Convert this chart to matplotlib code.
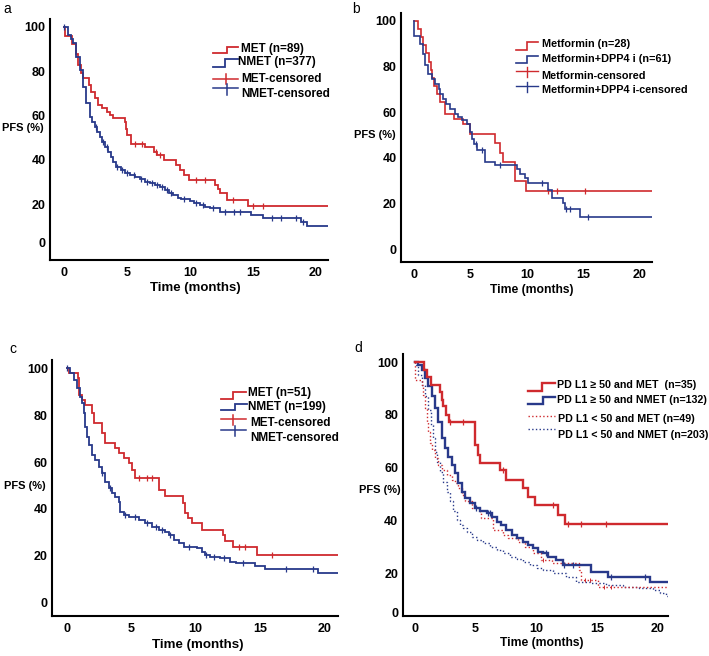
import matplotlib
matplotlib.use('Agg')
import matplotlib.pyplot as plt
import numpy as np

plt.rcParams['font.family'] = ['Liberation Sans', 'DejaVu Sans']

RED = '#cf2a2e'
BLUE = '#28398a'

# ---------------- Panel a ----------------
a_met_t = [0, 0.05, 0.6, 0.9, 1.1, 1.3, 1.5, 2.0, 2.1, 2.4, 2.7, 3.0, 3.4, 3.6, 3.9, 4.8, 4.9, 5.0, 5.3,
           6.4, 7.1, 7.4, 7.9, 8.9, 9.2, 9.5, 9.9, 12.0, 12.2, 12.4, 12.9, 14.6]
a_met_s = [100, 95.9, 92.5, 88, 83, 79, 76.8, 73.8, 70.8, 67.8, 64.8, 63.3, 61.8, 60.3, 58.7, 57.2, 54, 51, 47.3,
           45.8, 43.5, 42, 39.7, 37.5, 35.2, 33, 30.7, 28.6, 26.7, 24.8, 21.8, 19.3]
a_met_c = [5.6, 6.2, 7.3, 7.6, 10.5, 11.2, 13.4, 15.0, 15.8]
a_nmet_t = [0, 0.29, 0.5, 0.69, 0.95, 1.22, 1.48, 1.75, 2.01, 2.2, 2.41, 2.6, 2.81, 3.0, 3.2, 3.45, 3.73, 3.9,
            4.13, 4.5, 4.79, 5.2, 5.59, 6.0, 6.38, 6.8, 7.18, 7.6, 7.97, 8.3, 8.64, 9.0, 9.3, 9.96, 10.3, 10.8,
            11.2, 11.6, 12.4, 14.8, 15.8, 18.8, 19.3]
a_nmet_s = [100, 96.4, 94.5, 92.6, 86.6, 80.6, 73.0, 65.5, 59.5, 57.2, 55.0, 52.7, 50.5, 48.2, 45.9, 43.6, 41.4,
            39.1, 36.9, 35.4, 33.9, 33.1, 32.4, 31.2, 30.1, 29.3, 28.6, 27.5, 26.4, 25.2, 24.1, 22.9, 22.3, 21.5,
            20.6, 19.6, 18.8, 18.1, 16.6, 15.1, 13.6, 12.0, 10.1]
a_nmet_c = [0.0, 2.5, 3.1, 3.4, 4.2, 4.6, 5.0, 5.5, 6.1, 6.6, 7.0, 7.4, 7.8, 8.2, 8.5, 9.5, 10.5, 11.0, 11.8,
            12.8, 13.5, 14.0, 16.5, 17.2, 18.4, 19.0]

# ---------------- Panel b ----------------
b_met_t = [0, 0.4, 0.65, 0.85, 1.1, 1.35, 1.5, 1.65, 1.8, 2.1, 2.3, 2.8, 3.6, 4.4, 5.0, 7.2, 7.6, 7.9, 8.95, 9.9]
b_met_s = [100, 96.4, 92.9, 89.3, 85.7, 82.1, 78.6, 75.0, 71.4, 67.9, 64.3, 59.3, 57.1, 54.9, 50.6, 46.5, 42.0,
           38.0, 29.8, 25.3]
b_met_c = [11.9, 12.7, 15.1]
b_dpp_t = [0, 0.02, 0.56, 0.85, 1.0, 1.3, 1.6, 1.9, 2.2, 2.35, 2.6, 2.9, 3.2, 3.65, 3.95, 4.25, 4.7, 5.0, 5.15,
           5.3, 5.6, 6.3, 7.2, 9.1, 9.4, 9.8, 10.1, 11.9, 12.2, 13.2, 13.4, 14.7]
b_dpp_s = [100, 93.4, 89.8, 85.5, 80.4, 76.7, 74.6, 72.4, 70.2, 68.0, 65.8, 63.7, 61.5, 59.3, 57.8, 56.4, 54.9,
           51.3, 48.4, 46.2, 43.3, 38.2, 36.8, 35.3, 33.1, 31.0, 28.8, 25.9, 22.2, 20.1, 17.4, 14.0]
b_dpp_c = [5.5, 6.0, 7.6, 11.3, 13.5, 13.8, 15.4]

# ---------------- Panel c ----------------
c_met_t = [0, 0.1, 0.83, 0.9, 1.14, 1.4, 1.92, 2.05, 2.7, 2.96, 3.74, 4.0, 4.39, 4.78, 5.04, 5.3, 7.1, 7.64,
           8.99, 9.17, 9.43, 9.69, 10.47, 12.1, 12.3, 12.9, 14.75]
c_met_s = [100, 98.1, 96.0, 88.6, 86.5, 84.4, 80.8, 76.5, 72.3, 68.3, 65.9, 63.7, 61.6, 59.5, 56.6, 53.1, 48.1,
           45.5, 42.4, 38.4, 36.0, 33.9, 31.2, 28.9, 26.5, 23.9, 20.3]
c_met_c = [5.6, 6.2, 6.6, 13.4, 13.8, 15.9]
c_nmet_t = [0, 0.23, 0.49, 0.75, 1.01, 1.14, 1.27, 1.40, 1.53, 1.66, 1.92, 2.18, 2.44, 2.70, 2.96, 3.22, 3.48,
            3.74, 4.0, 4.13, 4.39, 4.78, 5.56, 6.08, 6.6, 7.12, 7.64, 7.9, 8.29, 8.68, 9.06, 10.1, 10.5, 10.7,
            11.1, 11.9, 12.7, 13.1, 14.6, 15.4, 16.0, 19.5]
c_nmet_s = [100, 97.9, 95.0, 91.5, 87.9, 85.1, 80.8, 75.1, 70.8, 67.3, 63.0, 60.9, 58.0, 55.2, 51.6, 48.8, 46.7,
            45.2, 43.1, 38.8, 37.4, 36.7, 35.3, 33.9, 32.4, 31.0, 30.3, 28.9, 26.7, 25.3, 23.9, 23.2, 21.8, 20.3,
            19.6, 18.9, 17.5, 16.8, 15.6, 14.6, 14.2, 12.9]
c_nmet_c = [0.0, 2.7, 3.3, 4.5, 5.3, 6.2, 6.9, 7.4, 8.0, 9.5, 10.8, 11.4, 12.2, 13.7, 17.0, 19.1]

# ---------------- Panel d ----------------
d_hi_met_t = [0, 0.77, 1.0, 1.29, 2.06, 2.2, 2.34, 2.6, 2.83, 4.95, 5.2, 5.4, 7.0, 7.55, 8.93, 9.34, 9.9, 11.8,
              12.36]
d_hi_met_s = [100, 97.1, 94.3, 91.4, 88.6, 85.7, 83.2, 80.0, 77.5, 68.6, 65.0, 61.7, 59.2, 55.4, 52.2, 49.0,
              45.9, 42.1, 38.7]
d_hi_met_c = [2.9, 4.0, 7.3, 11.4, 12.6, 13.7, 15.8]
d_hi_nmet_t = [0, 0.27, 0.55, 0.82, 1.10, 1.37, 1.65, 1.92, 2.20, 2.47, 2.75, 3.02, 3.30, 3.57, 3.85, 4.12, 4.53,
               4.95, 5.36, 5.91, 6.32, 6.73, 7.14, 7.55, 7.97, 8.38, 8.93, 9.34, 9.75, 10.16, 10.58, 11.0, 11.6,
               12.2, 14.5, 15.9, 19.4]
d_hi_nmet_s = [100, 99.0, 97.1, 93.9, 90.8, 87.1, 82.6, 77.5, 71.2, 67.4, 64.2, 61.1, 57.9, 54.1, 50.9, 48.4,
               46.5, 44.6, 43.4, 42.7, 41.5, 39.6, 38.3, 36.4, 34.5, 33.2, 32.0, 30.7, 29.5, 28.2, 27.6, 26.3,
               25.0, 23.1, 20.6, 18.7, 16.8]
d_hi_nmet_c = [5.0, 6.0, 6.2, 10.8, 12.3, 13.0, 16.2, 19.0]
d_lo_met_t = [0, 0.02, 0.55, 0.69, 0.82, 0.96, 1.10, 1.24, 1.37, 1.65, 1.92, 2.2, 2.61, 3.02, 3.3, 3.57, 3.85,
              4.12, 4.67, 5.36, 5.49, 6.46, 7.28, 7.69, 8.5, 9.1, 9.75, 10.4, 11.3, 13.5, 13.7, 15.1]
d_lo_met_s = [100, 93.3, 91.4, 87.6, 82.6, 77.5, 73.7, 69.3, 66.7, 63.6, 61.1, 59.2, 57.3, 55.4, 54.1, 52.2,
              49.7, 47.2, 44.6, 42.7, 40.8, 36.4, 34.5, 33.2, 31.8, 30.1, 27.6, 25.0, 23.8, 21.2, 17.4, 14.7]
d_lo_met_c = [10.6, 14.0, 14.4, 15.6, 16.2]
d_lo_nmet_t = [0, 0.05, 0.27, 0.55, 0.82, 1.10, 1.29, 1.46, 1.65, 1.84, 2.06, 2.34, 2.61, 2.88, 3.16, 3.43, 3.71,
               3.98, 4.26, 4.67, 5.08, 5.63, 6.18, 6.73, 7.28, 7.83, 8.38, 8.93, 9.48, 10.03, 10.58, 11.4, 12.5,
               13.3, 14.4, 15.8, 17.2, 18.5, 19.6, 20.2, 20.7]
d_lo_nmet_s = [100, 99.0, 95.2, 91.4, 87.0, 81.9, 76.2, 71.2, 66.1, 62.3, 58.5, 54.7, 50.9, 47.2, 43.4, 40.2,
               38.3, 37.0, 35.8, 33.9, 32.6, 31.4, 30.1, 28.8, 27.6, 26.3, 25.4, 24.4, 23.1, 21.9, 21.2, 20.0,
               18.7, 16.8, 16.2, 15.5, 14.9, 14.3, 13.6, 12.4, 11.5]

xticks = [0, 5, 10, 15, 20]
yvals = [0, 20, 40, 60, 80, 100]
ylabels = ['0', '20', '40', '60', '80', '100']

fig = plt.figure(figsize=(7.09, 6.56), dpi=100)
W, H = 709.0, 656.0


def make_ax(l, r, t, b, xlim, ylim, yt):
    ax = fig.add_axes([l / W, 1 - b / H, (r - l) / W, (b - t) / H])
    ax.set_xlim(*xlim)
    ax.set_ylim(*ylim)
    for sp in ['top', 'right']:
        ax.spines[sp].set_visible(False)
    for sp in ['left', 'bottom']:
        ax.spines[sp].set_linewidth(1.5)
    ax.set_xticks(xticks)
    ax.set_xticklabels([str(x) for x in xticks])
    ax.set_yticks(yt)
    ax.set_yticklabels(ylabels)
    ax.tick_params(axis='x', length=0, pad=5.0, labelsize=9)
    ax.tick_params(axis='y', length=0, pad=3.2, labelsize=9)
    for lab in ax.get_xticklabels() + ax.get_yticklabels():
        lab.set_fontweight('bold')
    return ax


def km(ax, t, s, end, color, lw, ls='-', cens=None, ms=3.8, mew=0.9):
    tt = list(t) + [end]
    ss = list(s) + [s[-1]]
    ax.step(tt, ss, where='post', color=color, lw=lw, ls=ls, solid_joinstyle='miter')
    if cens:
        ta = np.array(t)
        sa = np.array(s)
        ys = [sa[np.searchsorted(ta, c, side='right') - 1] for c in cens]
        ax.plot(cens, ys, ls='none', marker='|', ms=ms, mew=mew, color=color)


ax_a = make_ax(50, 328, 19, 260, (-1.14, 20.96), (-5.3, 103.6), [2.5, 20, 40, 60, 80, 100])
km(ax_a, a_met_t, a_met_s, 20.96, RED, 1.3, cens=a_met_c)
km(ax_a, a_nmet_t, a_nmet_s, 20.96, BLUE, 1.3, cens=a_nmet_c)

ax_b = make_ax(401, 651.7, 13.3, 262, (-1.12, 21.03), (-5.6, 103.2), yvals)
km(ax_b, b_met_t, b_met_s, 21.03, RED, 1.2, cens=b_met_c)
km(ax_b, b_dpp_t, b_dpp_s, 21.03, BLUE, 1.2, cens=b_dpp_c)

ax_c = make_ax(52.3, 338.3, 360, 615.7, (-1.17, 21.1), (-5.5, 103.5), yvals)
km(ax_c, c_met_t, c_met_s, 21.1, RED, 1.3, cens=c_met_c)
km(ax_c, c_nmet_t, c_nmet_s, 21.1, BLUE, 1.3, cens=c_nmet_c)

ax_d = make_ax(402.7, 668.3, 354, 615.7, (-1.01, 20.9), (3.9, 103.1), [5.0, 20, 40, 60, 80, 100])
km(ax_d, d_lo_nmet_t, d_lo_nmet_s, 20.9, BLUE, 1.0, ls=':')
km(ax_d, d_lo_met_t, d_lo_met_s, 20.9, RED, 1.0, ls=':', cens=d_lo_met_c, ms=3.2, mew=0.7)
km(ax_d, d_hi_nmet_t, d_hi_nmet_s, 20.9, BLUE, 1.7, cens=d_hi_nmet_c)
km(ax_d, d_hi_met_t, d_hi_met_s, 20.9, RED, 1.7, cens=d_hi_met_c)

# ---------------- overlay for labels and legends ----------------
ov = fig.add_axes([0, 0, 1, 1])
ov.set_xlim(0, W)
ov.set_ylim(H, 0)
ov.axis('off')
ov.patch.set_alpha(0)


def txt(x, y, s, size, weight='bold', ha='left'):
    ov.text(x, y, s, fontsize=size, fontweight=weight, ha=ha, va='center')


def step_icon(x0, y0, xm, y1, x1, color, lw=1.3):
    ov.plot([x0, xm, xm, x1], [y0, y0, y1, y1], color=color, lw=lw, solid_joinstyle='miter')


def cens_icon(x0, x1, y, xm, yt0, yt1, color, lw=1.1):
    ov.plot([x0, x1], [y, y], color=color, lw=lw)
    ov.plot([xm, xm], [yt0, yt1], color=color, lw=lw)


# panel letters
txt(7.5, 9, 'a', 10, 'normal', 'center')
txt(356, 9, 'b', 10, 'normal', 'center')
txt(13, 349, 'c', 10, 'normal', 'center')
txt(358, 348, 'd', 10, 'normal', 'center')

# axis titles
txt(22.5, 128, 'PFS (%)', 8, ha='center')
txt(374.5, 135, 'PFS (%)', 8, ha='center')
txt(25, 485.7, 'PFS (%)', 8, ha='center')
txt(380, 490, 'PFS (%)', 8, ha='center')
txt(195, 288, 'Time (months)', 9.5, ha='center')
txt(532, 290, 'Time (months)', 8.7, ha='center')
txt(198, 645, 'Time (months)', 9.6, ha='center')
txt(542, 643, 'Time (months)', 8.7, ha='center')

# legend a
step_icon(213.3, 53.3, 226.7, 46.7, 238.3, RED)
step_icon(213.3, 66.7, 225.0, 59.3, 238.3, BLUE)
cens_icon(213.3, 238.3, 79, 226, 74, 84, RED)
cens_icon(213.3, 238.3, 88.3, 226.7, 84, 95, BLUE)
txt(240.7, 49.3, 'MET (n=89)', 8.5)
txt(238.5, 62.3, 'NMET (n=377)', 8.5)
txt(241.5, 79, 'MET-censored', 8.5)
txt(241.5, 94, 'NMET-censored', 8.5)

# legend b
step_icon(516, 50, 526.7, 42.3, 537.7, RED, 1.2)
step_icon(516, 62.7, 527.3, 55.7, 538.3, BLUE, 1.2)
cens_icon(516, 537.7, 71, 526.7, 66.7, 76.7, RED, 1.0)
cens_icon(516, 537.7, 86, 526.7, 81.7, 91.7, BLUE, 1.0)
txt(541.7, 44, 'Metformin (n=28)', 7.8)
txt(541.7, 59, 'Metformin+DPP4 i (n=61)', 7.8)
txt(541.7, 76, 'Metformin-censored', 7.8)
txt(542.3, 90, 'Metformin+DPP4 i-censored', 7.8)

# legend c
step_icon(220.7, 399.3, 233.3, 391.7, 246, RED)
step_icon(220.7, 410, 235, 404, 246.7, BLUE)
cens_icon(220.7, 246, 419.3, 233.3, 415, 425, RED)
cens_icon(220.7, 246, 430, 235, 426, 435.5, BLUE)
txt(248.3, 392.7, 'MET (n=51)', 8.5)
txt(248.3, 406.7, 'NMET (n=199)', 8.5)
txt(250, 423.3, 'MET-censored', 8.5)
txt(250, 437.7, 'NMET-censored', 8.5)

# legend d
step_icon(528.3, 391, 541.7, 383.3, 555, RED, 1.7)
step_icon(528.3, 404, 543.3, 396.7, 555, BLUE, 1.7)
ov.plot([528.3, 555], [416, 416], color=RED, lw=1.0, ls=':')
ov.plot([528.3, 555], [429.3, 429.3], color=BLUE, lw=1.0, ls=':')
txt(556.7, 385, 'PD L1 \u2265 50 and MET  (n=35)', 7.7)
txt(556.7, 400, 'PD L1 \u2265 50 and NMET (n=132)', 7.7)
txt(558.3, 419.3, 'PD L1 < 50 and MET (n=49)', 7.7)
txt(558.3, 435, 'PD L1 < 50 and NMET (n=203)', 7.7)

fig.savefig('out.png', dpi=100)
